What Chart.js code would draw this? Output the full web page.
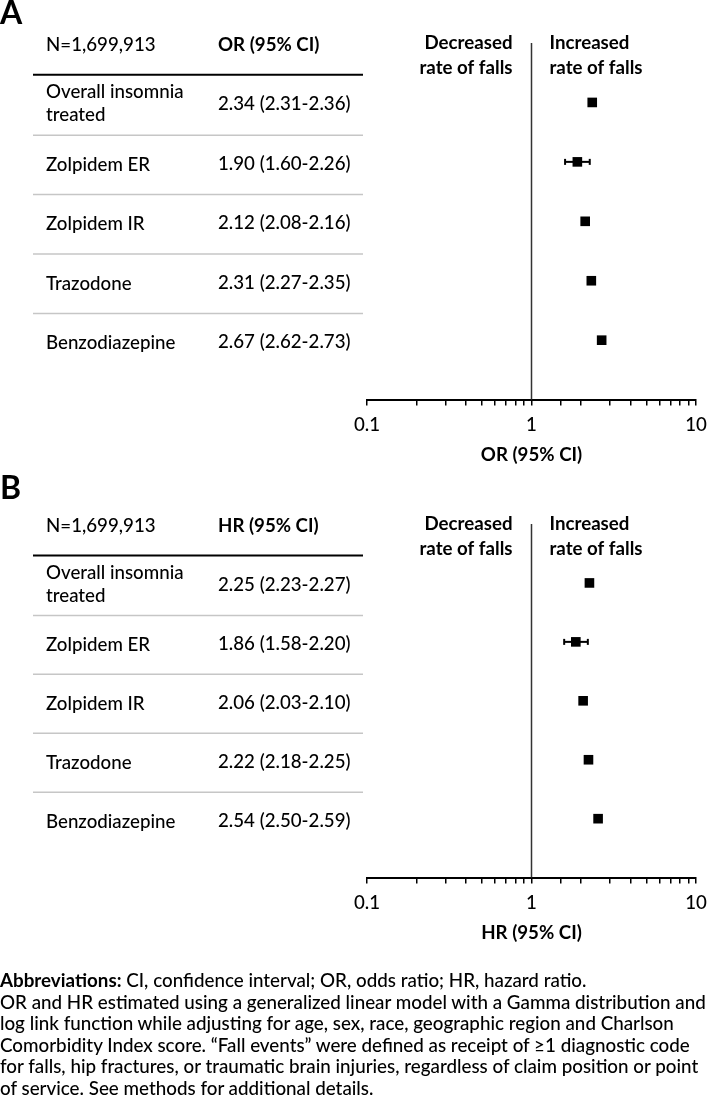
<!DOCTYPE html>
<html>
<head>
<meta charset="utf-8">
<script src="https://cdn.jsdelivr.net/npm/chart.js@4.4.1/dist/chart.umd.min.js"></script>
<style>
  body { margin: 0; background: #fff; width: 708px; height: 1112px; position: relative; overflow: hidden; font-family: Lato, sans-serif; }
  .panel { position: absolute; left: 0; width: 708px; }
  #notes { position: absolute; left: 0; top: 969px; font-size: 18.8px; font-weight: 500; line-height: 21.6px; color: #000; white-space: nowrap; }
  #notes b { font-weight: 700; }
</style>
</head>
<body>
<div class="panel" style="top:0;height:480px"><canvas id="chartA"></canvas></div>
<div class="panel" style="top:466px;height:490px"><canvas id="chartB"></canvas></div>
<div id="notes">
  <b>Abbreviations:</b> CI, confidence interval; OR, odds ratio; HR, hazard ratio.<br>
  OR and HR estimated using a generalized linear model with a Gamma distribution and<br>
  log link function while adjusting for age, sex, race, geographic region and Charlson<br>
  Comorbidity Index score. “Fall events” were defined as receipt of ≥1 diagnostic code<br>
  for falls, hip fractures, or traumatic brain injuries, regardless of claim position or point<br>
  of service. See methods for additional details.
</div>
<script>
const drugs = ['Overall insomnia treated', 'Zolpidem ER', 'Zolpidem IR', 'Trazodone', 'Benzodiazepine'];
const sampleLabel = 'N=1,699,913';

// panel A - odds ratios
const orVals = [2.34, 1.90, 2.12, 2.31, 2.67];
const orLow  = [2.31, 1.60, 2.08, 2.27, 2.62];
const orHigh = [2.36, 2.26, 2.16, 2.35, 2.73];

// panel B - hazard ratios
const hrVals = [2.25, 1.86, 2.06, 2.22, 2.54];
const hrLow  = [2.23, 1.58, 2.03, 2.18, 2.50];
const hrHigh = [2.27, 2.20, 2.10, 2.25, 2.59];

const xTickLabels = [0.1, 1, 10];
const FONT = 'Lato, "Open Sans", sans-serif';
const FS = 18.7;

const fmt = v => v.toFixed(2);

// draws the table on the left, the panel letter and the direction labels
const tablePlugin = {
  id: 'forestTable',
  afterDraw(chart, args, opts) {
    const c = chart.ctx;
    const y = chart.scales.y;
    const x = chart.scales.x;
    const n = drugs.length;
    c.save();
    c.fillStyle = '#000';
    c.textBaseline = 'middle';

    c.font = 'bold 32px ' + FONT;
    c.fillText(opts.letter, 0, opts.letterY);

    c.font = '500 ' + FS + 'px ' + FONT;
    c.fillText(sampleLabel, 46, y.getPixelForValue(-1) + 2);
    c.font = 'bold ' + FS + 'px ' + FONT;
    c.fillText(opts.header, 218, y.getPixelForValue(-1) + 2);

    // header rule
    c.strokeStyle = '#000';
    c.lineWidth = 2;
    c.beginPath();
    c.moveTo(33, y.getPixelForValue(-0.5) + 2);
    c.lineTo(363, y.getPixelForValue(-0.5) + 2);
    c.stroke();

    // row separators
    c.strokeStyle = '#c6c6c6';
    c.lineWidth = 1.5;
    for (let i = 0; i < n - 1; i++) {
      const yy = y.getPixelForValue(i + 0.5) + 3;
      c.beginPath();
      c.moveTo(33, yy);
      c.lineTo(363, yy);
      c.stroke();
    }

    c.font = '500 ' + FS + 'px ' + FONT;
    for (let i = 0; i < n; i++) {
      const yy = y.getPixelForValue(i);
      if (i === 0) {
        c.fillText('Overall insomnia', 46, yy - 10);
        c.fillText('treated', 46, yy + 13);
      } else {
        c.fillText(drugs[i], 46, yy + 3);
      }
      c.fillText(fmt(opts.vals[i]) + ' (' + fmt(opts.low[i]) + '-' + fmt(opts.high[i]) + ')', 218, yy + 2);
    }

    // direction labels either side of 1
    const x1 = x.getPixelForValue(1);
    const top = y.getPixelForValue(-1);
    c.font = 'bold ' + FS + 'px ' + FONT;
    c.textAlign = 'right';
    c.fillText('Decreased', x1 - 19, top);
    c.fillText('rate of falls', x1 - 19, top + 25);
    c.textAlign = 'left';
    c.fillText('Increased', x1 + 18, top);
    c.fillText('rate of falls', x1 + 18, top + 25);
    c.restore();
  }
};

function makeForest(canvasId, vals, low, high, axisTitle, letter, letterY, padTop, padBottom) {
  const datasets = [
    {
      data: vals.map((v, i) => ({x: v, y: i})),
      pointStyle: 'rect',
      pointRadius: 6.8,
      pointHoverRadius: 6.8,
      backgroundColor: '#000',
      borderWidth: 0,
      showLine: false,
      order: 0
    },
    {
      data: [{x: 1, y: -1}, {x: 1, y: 5}],
      showLine: true,
      borderColor: '#333',
      borderWidth: 1.5,
      pointRadius: 0,
      order: 2
    }
  ];
  low.forEach((lo, i) => {
    datasets.push({
      data: [{x: lo, y: i}, {x: high[i], y: i}],
      showLine: true,
      borderColor: '#000',
      borderWidth: 2,
      pointStyle: 'line',
      rotation: 90,
      pointRadius: 3,
      pointBorderColor: '#000',
      pointBorderWidth: 2,
      order: 1
    });
  });

  return new Chart(document.getElementById(canvasId), {
    type: 'scatter',
    data: {datasets},
    options: {
      responsive: true,
      maintainAspectRatio: false,
      animation: false,
      clip: false,
      layout: {padding: {left: 367, right: 12, top: padTop, bottom: padBottom}},
      plugins: {
        legend: {display: false},
        tooltip: {enabled: false},
        forestTable: {letter, letterY, header: axisTitle, vals, low, high}
      },
      scales: {
        x: {
          type: 'logarithmic',
          min: 0.1,
          max: 10,
          afterFit: s => { s.paddingLeft = 0; s.paddingRight = 0; },
          border: {display: true, color: '#000', width: 2},
          grid: {display: true, drawOnChartArea: false, drawTicks: true, tickLength: 6, color: '#000', lineWidth: 1.5},
          ticks: {
            color: '#000',
            padding: 8,
            autoSkip: false,
            maxRotation: 0,
            font: {family: FONT, size: FS, weight: 500},
            callback: v => {
              const hit = xTickLabels.find(t => Math.abs(t - v) < 1e-9);
              return hit === undefined ? '' : String(hit);
            }
          },
          title: {
            display: true,
            text: axisTitle,
            color: '#000',
            font: {family: FONT, size: FS, weight: 'bold'},
            padding: {top: 0, bottom: 0}
          }
        },
        y: {
          type: 'linear',
          min: -1,
          max: 5,
          reverse: true,
          display: false
        }
      }
    },
    plugins: [tablePlugin]
  });
}

makeForest('chartA', orVals, orLow, orHigh, 'OR (95% CI)', 'A', 14, 43, 13.5);
makeForest('chartB', hrVals, hrLow, hrHigh, 'HR (95% CI)', 'B', 23, 58, 11.5);
</script>
</body>
</html>
